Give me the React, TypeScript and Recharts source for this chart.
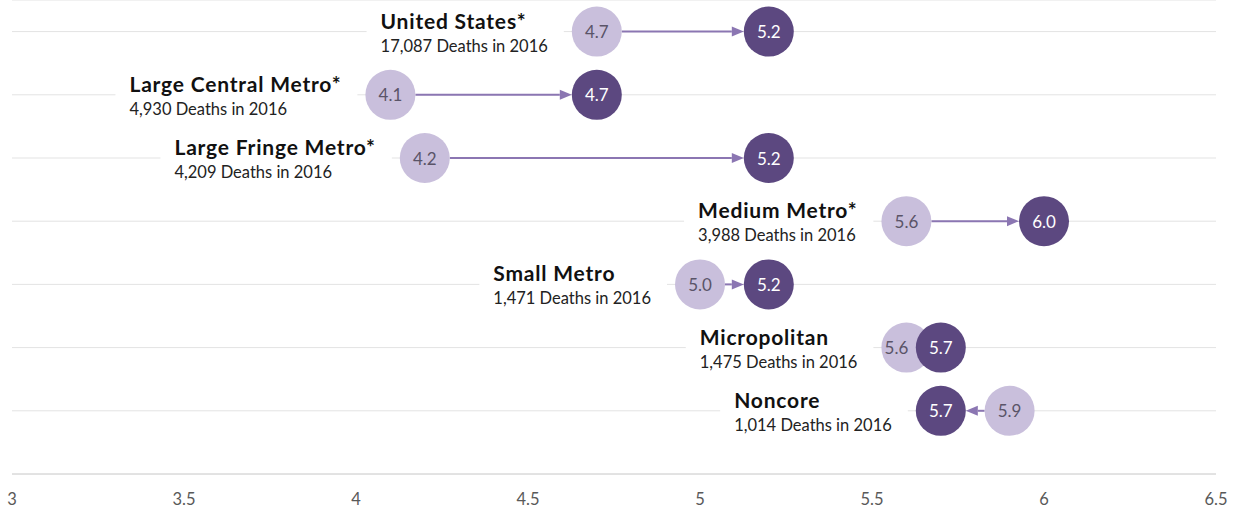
import React from 'react'
import {
  ScatterChart, Scatter, XAxis, YAxis, CartesianGrid, ReferenceLine
} from 'recharts'

const categories = [
  'United States*', 'Large Central Metro*', 'Large Fringe Metro*', 'Medium Metro*',
  'Small Metro', 'Micropolitan', 'Noncore',
]
const deaths2016 = ['17,087', '4,930', '4,209', '3,988', '1,471', '1,475', '1,014']
const rate2015 = [4.7, 4.1, 4.2, 5.6, 5.0, 5.6, 5.9]
const rate2016 = [5.2, 4.7, 5.2, 6.0, 5.2, 5.7, 5.7]
const xTicks = [3, 3.5, 4, 4.5, 5, 5.5, 6, 6.5]

const FONT = 'Lato, "Open Sans", sans-serif'
const LIGHT = '#c9bfdc'
const DARK = '#5c4880'
const ARROW = '#8b76b2'
const R = 25

// rows go top to bottom, y counts down so the first row sits at the top
const rows = categories.map((name, i) => ({
  name,
  sub: `${deaths2016[i]} Deaths in 2016`,
  start: rate2015[i],
  end: rate2016[i],
  y: categories.length - i,
}))
const labelData = rows.map(r => ({ ...r, x: Math.min(r.start, r.end) }))
const startData = rows.map(r => ({ ...r, x: r.start }))
const endData = rows.map(r => ({ ...r, x: r.end }))

let ctx: CanvasRenderingContext2D | null = null
function textWidth(s: string, font: string, spacing = 0) {
  if (!ctx) ctx = document.createElement('canvas').getContext('2d')
  if (!ctx) return s.length * 9
  ctx.font = font
  return ctx.measureText(s).width + spacing * s.length
}

const TITLE_SIZE = 21
const TITLE_SPACING = 0.8
const SUB_SIZE = 16.5

// eslint-disable-next-line @typescript-eslint/no-explicit-any
function LabelShape({ cx, cy, payload }: any) {
  const w = Math.max(
    textWidth(payload.name, `700 ${TITLE_SIZE}px ${FONT}`, TITLE_SPACING),
    textWidth(payload.sub, `400 ${SUB_SIZE}px ${FONT}`),
  )
  const right = cx - R - 24
  const left = right - w
  return (
    <g>
      <rect x={left - 14} y={cy - 4} width={w + 14 + 16} height={8} fill="#fff" />
      <text x={left} y={cy - 3} fontFamily={FONT} fontSize={TITLE_SIZE} fontWeight={700}
        letterSpacing={TITLE_SPACING} fill="#111">
        {payload.name}
      </text>
      <text x={left} y={cy + 20} fontFamily={FONT} fontSize={SUB_SIZE} fill="#222">
        {payload.sub}
      </text>
    </g>
  )
}

function dot(fill: string, color: string, key: 'start' | 'end') {
  // eslint-disable-next-line @typescript-eslint/no-explicit-any
  return ({ cx, cy, payload }: any) => {
    // when the two circles overlap, nudge the 2015 value away from the 2016 circle
    const gap = payload.end - payload.start
    const dx = key === 'start' && Math.abs(gap) < 0.15 ? -Math.sign(gap) * 10 : 0
    return (
      <g>
        <circle cx={cx} cy={cy} r={R} fill={fill} />
        <text x={cx + dx} y={cy} textAnchor="middle" dominantBaseline="central" fontFamily={FONT} fontSize={17} fill={color}>
          {payload[key].toFixed(1)}
        </text>
      </g>
    )
  }
}

// eslint-disable-next-line @typescript-eslint/no-explicit-any
function ArrowShape({ x1, y1, x2 }: any) {
  const dir = x2 >= x1 ? 1 : -1
  const sx = x1 + dir * R
  const ex = x2 - dir * R
  if ((ex - sx) * dir <= 2) return <g />
  const head = 12
  return (
    <g>
      <line x1={sx} y1={y1} x2={ex - dir * head} y2={y1} stroke={ARROW} strokeWidth={2} />
      <polygon points={`${ex},${y1} ${ex - dir * head},${y1 - 5} ${ex - dir * head},${y1 + 5}`} fill={ARROW} />
    </g>
  )
}

export default function App() {
  return (
    <div style={{ position: 'absolute', left: 0, top: 0, background: '#fff' }}>
      <ScatterChart width={1239} height={508} margin={{ top: 0, right: 23, bottom: 0, left: 12 }}>
        <CartesianGrid vertical={false} stroke="#e3e3e3" />
        <XAxis
          type="number" dataKey="x" domain={[3, 6.5]} ticks={xTicks} interval={0}
          tickLine={false} axisLine={{ stroke: '#d4d4d4' }} height={34} tickMargin={13}
          tick={{ fontSize: 16.5, fill: '#595959', fontFamily: FONT }}
        />
        <YAxis type="number" dataKey="y" domain={[0, 7.5]} ticks={[1, 2, 3, 4, 5, 6, 7]} hide />
        {rows.map(r => (
          <ReferenceLine
            key={r.name}
            segment={[{ x: r.start, y: r.y }, { x: r.end, y: r.y }]}
            shape={ArrowShape}
          />
        ))}
        <Scatter data={labelData} shape={LabelShape} isAnimationActive={false} />
        <Scatter data={startData} shape={dot(LIGHT, '#5a5468', 'start')} isAnimationActive={false} />
        <Scatter data={endData} shape={dot(DARK, '#ffffff', 'end')} isAnimationActive={false} />
      </ScatterChart>
    </div>
  )
}
